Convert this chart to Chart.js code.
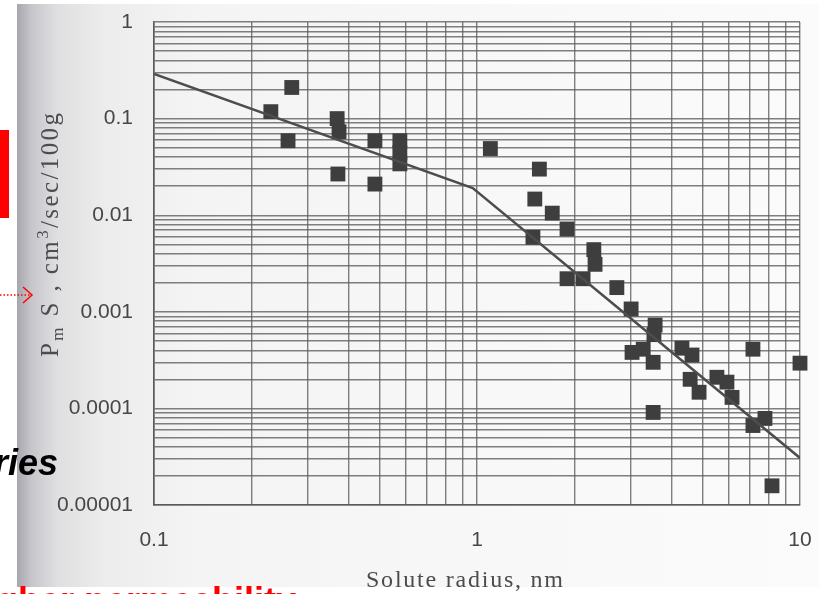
<!DOCTYPE html>
<html>
<head>
<meta charset="utf-8">
<script src="https://cdn.jsdelivr.net/npm/chart.js@4.4.0/dist/chart.umd.min.js"></script>
<style>
  html, body { margin: 0; padding: 0; background: #fff; overflow: hidden; }
  #wrap { position: relative; width: 819px; height: 594px; }
  #scan {
    position: absolute; left: 17px; top: 4px; width: 802px; height: 583px;
    background: linear-gradient(to right, #a7a6ad 0px, #c6c5ca 14px, #dfdfe1 40px, #ececec 85px, #f4f4f4 180px, #f8f8f8 500px, #fbfbfb 100%);
  }
  #chart { position: absolute; left: 0; top: 0; }
  .note { position: absolute; font-family: "Liberation Sans", Arial, sans-serif; font-weight: bold; white-space: nowrap; }
</style>
</head>
<body>
<div id="wrap">
  <div id="scan"></div>
  <canvas id="chart" width="819" height="594"></canvas>
  <div style="position:absolute;left:0;top:130px;width:9px;height:88px;background:#ff0000;"></div>
  <svg style="position:absolute;left:0;top:285px;" width="36" height="20">
    <line x1="0" y1="10" x2="31" y2="10" stroke="#ff0000" stroke-width="1.5" stroke-dasharray="1.5,2"/>
    <polyline points="23,2 32,10 23,18" fill="none" stroke="#ff0000" stroke-width="1.5"/>
  </svg>
  <div class="note" style="left:-6px;top:442px;font-size:36px;font-style:italic;color:#000;">ries</div>
  <div class="note" style="left:-4px;top:580px;font-size:36px;color:#ff0000;">gher permeability</div>
</div>
<script>
// solute radius (nm) vs permeability-surface product
const radius = [0.23, 0.267, 0.26, 0.369, 0.374, 0.371, 0.483, 0.483, 0.577, 0.577, 0.577,
  1.10, 1.56, 1.51, 1.49, 1.71, 1.90, 1.90, 2.13, 2.30, 2.32, 2.71, 3.0, 3.56, 3.53, 3.02, 3.27,
  3.51, 3.51, 4.31, 4.63, 4.57, 4.87, 5.53, 5.94, 6.16, 7.15, 7.15, 7.79, 8.19, 10.0];
const pmS = [0.118, 0.21, 0.059, 0.10, 0.073, 0.0267, 0.059, 0.021, 0.059, 0.0442, 0.034,
  0.049, 0.030, 0.0147, 0.0059, 0.0105, 0.0072, 0.0022, 0.0022, 0.0044, 0.0031, 0.00178, 0.00107, 0.00073, 0.00058, 0.00038, 0.00041,
  0.0003, 0.0000908, 0.00042, 0.000357, 0.0002, 0.000147, 0.00021, 0.000187, 0.00013, 0.00041, 0.0000665, 0.0000787, 0.0000158, 0.000294];

// fitted curve
const curveX = [0.1, 0.97, 10];
const curveY = [0.29, 0.0191, 0.0000307];

// axis ticks
const xTickValues = [0.1, 1, 10];
const xTickLabels = ['0.1', '1', '10'];
const yTickValues = [0.00001, 0.0001, 0.001, 0.01, 0.1, 1];
const yTickLabels = ['0.00001', '0.0001', '0.001', '0.01', '0.1', '1'];
const mantissas = [1, 2, 3, 4, 5, 6, 7, 8, 9];

function gridValues(decades) {
  let out = [];
  for (let i = 0; i < decades.length - 1; i++) {
    mantissas.forEach(m => out.push(Number((m * decades[i]).toPrecision(6))));
  }
  out.push(decades[decades.length - 1]);
  return out;
}

function labelFor(values, labels, v) {
  for (let i = 0; i < values.length; i++) {
    if (Math.abs(v - values[i]) / values[i] < 1e-6) return labels[i];
  }
  return '';
}

// draws a string char by char so it fills a given length
function spacedText(ctx, chars, length) {
  let natural = 0;
  chars.forEach(c => { ctx.font = c[1]; natural += ctx.measureText(c[0]).width; });
  let sp = (length - natural) / (chars.length - 1);
  let x = 0;
  chars.forEach(c => {
    ctx.font = c[1];
    ctx.fillText(c[0], x, c[2]);
    x += ctx.measureText(c[0]).width + sp;
  });
}

const titles = {
  id: 'titles',
  afterDraw(chart) {
    const ctx = chart.ctx;
    // y title, rotated, with subscript m and superscript 3
    const big = '25px "Liberation Serif", serif';
    const small = '17px "Liberation Serif", serif';
    const parts = [['P', big, 0], ['m', small, 5], [' S , cm', big, 0], ['3', small, -10], ['/sec/100g', big, 0]];
    let chars = [];
    parts.forEach(p => p[0].split('').forEach(c => chars.push([c, p[1], p[2]])));
    ctx.save();
    ctx.fillStyle = '#4c4c4c';
    ctx.textBaseline = 'alphabetic';
    ctx.translate(58, 357);
    ctx.rotate(-Math.PI / 2);
    spacedText(ctx, chars, 244);
    ctx.restore();

    // x title
    const xfont = '24px "Liberation Serif", serif';
    ctx.save();
    ctx.fillStyle = '#4c4c4c';
    ctx.textBaseline = 'alphabetic';
    ctx.translate(366, 587);
    spacedText(ctx, 'Solute radius, nm'.split('').map(c => [c, xfont, 0]), 197);
    ctx.restore();
  }
};

const gridColor = 'rgba(92,92,92,0.78)';

new Chart(document.getElementById('chart'), {
  type: 'scatter',
  data: {
    datasets: [
      {
        type: 'line',
        data: curveX.map((x, i) => ({ x: x, y: curveY[i] })),
        borderColor: '#4d4d4d',
        borderWidth: 2.5,
        pointRadius: 0,
        tension: 0,
        fill: false
      },
      {
        data: radius.map((x, i) => ({ x: x, y: pmS[i] })),
        pointStyle: 'rect',
        pointRadius: 10.5,
        pointHoverRadius: 10.5,
        backgroundColor: '#3e3e3e',
        borderWidth: 0,
        clip: false
      }
    ]
  },
  options: {
    responsive: false,
    animation: false,
    events: [],
    layout: { padding: { top: 22, right: 19, left: 0, bottom: 0 } },
    plugins: { legend: { display: false }, tooltip: { enabled: false } },
    scales: {
      x: {
        type: 'logarithmic',
        min: 0.1,
        max: 10,
        afterFit(scale) { scale.height = 89; scale.paddingLeft = 0; scale.paddingRight = 0; },
        afterBuildTicks(scale) { scale.ticks = gridValues(xTickValues).map(v => ({ value: v })); },
        grid: { color: gridColor, lineWidth: 1.4, drawTicks: false },
        border: { color: '#5a5a5a', width: 1.6 },
        ticks: {
          autoSkip: false,
          maxRotation: 0,
          padding: 23,
          color: '#474747',
          font: { family: '"Liberation Sans", Arial, sans-serif', size: 21 },
          callback: (v) => labelFor(xTickValues, xTickLabels, v)
        }
      },
      y: {
        type: 'logarithmic',
        min: 0.00001,
        max: 1,
        afterFit(scale) { scale.width = 154; scale.paddingTop = 0; scale.paddingBottom = 0; },
        afterBuildTicks(scale) { scale.ticks = gridValues(yTickValues).map(v => ({ value: v })); },
        grid: { color: gridColor, lineWidth: 1.4, drawTicks: false },
        border: { color: '#5a5a5a', width: 1.6 },
        ticks: {
          autoSkip: false,
          padding: 21,
          color: '#474747',
          font: { family: '"Liberation Sans", Arial, sans-serif', size: 21 },
          callback: (v) => labelFor(yTickValues, yTickLabels, v)
        }
      }
    }
  },
  plugins: [titles]
});
</script>
</body>
</html>
